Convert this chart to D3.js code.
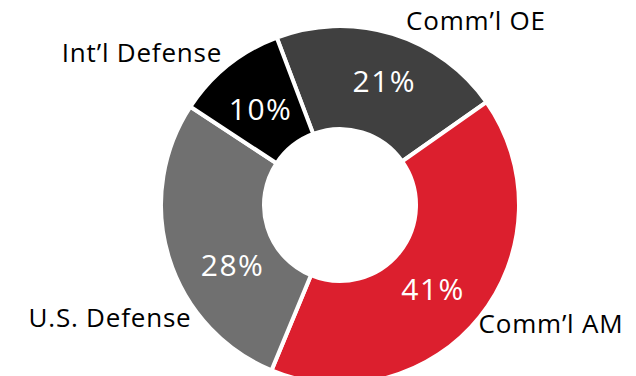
<!DOCTYPE html>
<html>
<head>
<meta charset="utf-8">
<script src="https://cdn.jsdelivr.net/npm/d3@7"></script>
<style>
  body { margin: 0; background: #fff; }
  svg text { font-family: "Open Sans", sans-serif; }
</style>
</head>
<body>
<svg id="chart" width="636" height="376"></svg>
<script>
var segments = ["Comm\u2019l OE", "Comm\u2019l AM", "U.S. Defense", "Int\u2019l Defense"];
var shares = [21, 41, 28, 10];
var colors = ["#404040", "#dc1f2e", "#707070", "#000000"];

var width = 636, height = 376;
var cx = 340, cy = 205,
  outerR = 179, innerR = 76;

// category label spots (anchor middle, baseline)
var labelSpots = [[476, 30], [551, 333], [110, 327], [142, 62]];
// small nudges for the % labels, as placed in the original
var pctNudge = [[7, -2], [-6, 5], [14, 23], [0, 3]];

var svg = d3.select("#chart");
var g = svg.append("g")
  .attr("transform", "translate(" + cx + "," + cy + ")");

var startA = -20.7 * Math.PI / 180;

var pie = d3.pie()
  .sort(null)
  .startAngle(startA)
  .endAngle(startA + 2 * Math.PI)
  .value(function(d) { return d; });

var arc = d3.arc()
  .innerRadius(innerR)
  .outerRadius(outerR);

var labelArc = d3.arc()
  .innerRadius(127)
  .outerRadius(127);

var arcs = pie(shares);

g.selectAll(".slice")
  .data(arcs)
  .enter().append("path")
  .attr("class", "slice")
  .attr("d", arc)
  .attr("fill", function(d, i) { return colors[i]; })
  .attr("stroke", "#fff")
  .attr("stroke-width", 4);

g.selectAll(".pct")
  .data(arcs)
  .enter().append("text")
  .attr("class", "pct")
  .attr("transform", function(d, i) {
    var c = labelArc.centroid(d);
    return "translate(" + (c[0] + pctNudge[i][0]) + "," + (c[1] + pctNudge[i][1]) + ")";
  })
  .attr("text-anchor", "middle")
  .attr("dy", "0.36em")
  .attr("fill", "#fff")
  .style("font-size", "30px")
  .style("letter-spacing", "1.5px")
  .text(function(d) { return d.data + "%"; });

svg.selectAll(".cat")
  .data(segments)
  .enter().append("text")
  .attr("class", "cat")
  .attr("x", function(d, i) { return labelSpots[i][0]; })
  .attr("y", function(d, i) { return labelSpots[i][1]; })
  .attr("text-anchor", "middle")
  .attr("fill", "#000")
  .style("font-size", "26px")
  .style("letter-spacing", "0.8px")
  .text(function(d) { return d; });
</script>
</body>
</html>
